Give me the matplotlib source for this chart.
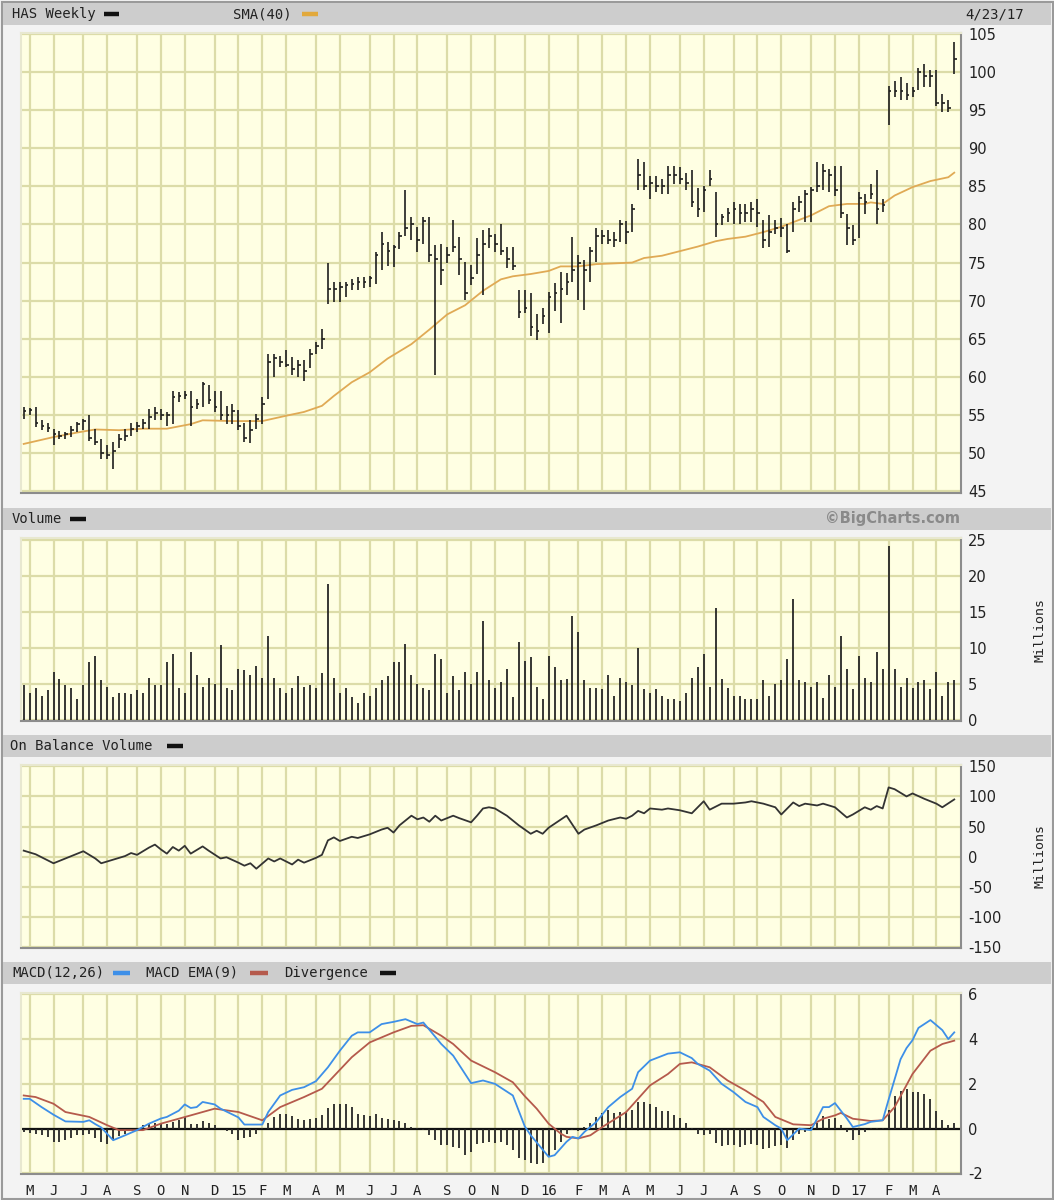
import numpy as np
import pandas as pd
import matplotlib
matplotlib.use("Agg")
import matplotlib.pyplot as plt
from matplotlib.patches import Rectangle
from matplotlib.lines import Line2D

plt.rcParams["axes.unicode_minus"] = False

# ---------------- data ----------------
dates = pd.date_range("2014-04-27", "2017-04-23", freq="W-SUN")  # 157 weekly bars

highs = [56.0,55.9,56.0,54.3,54.0,53.2,52.9,52.7,53.6,54.1,
         54.5,55.0,53.2,51.8,51.0,51.4,52.5,53.2,54.0,54.1,
         54.5,55.8,56.0,55.8,55.4,58.2,58.0,58.2,58.2,57.1,
         59.3,58.9,58.2,58.2,56.2,56.4,55.6,54.0,54.3,55.1,
         57.3,63.0,63.0,62.8,63.5,62.6,62.2,62.2,63.7,64.6,
         66.3,74.9,72.5,72.5,72.5,72.9,73.1,73.1,73.3,76.4,
         79.0,77.7,77.3,79.0,84.5,81.0,79.7,81.0,81.0,77.3,
         77.5,77.1,80.6,78.3,75.1,74.7,78.2,79.3,79.5,78.7,
         80.0,77.0,77.0,71.4,71.4,71.0,68.2,69.0,71.2,72.3,
         73.8,73.6,78.4,76.0,75.3,77.1,79.6,79.3,79.3,79.0,
         80.6,80.4,82.7,88.6,88.2,86.4,86.4,86.0,87.7,87.7,
         87.5,86.7,87.1,84.8,85.1,87.1,84.3,81.4,82.2,83.0,
         82.7,82.7,83.0,83.4,80.6,81.2,80.6,80.8,80.1,83.0,
         83.8,84.5,84.9,88.2,88.0,87.3,87.7,87.7,81.4,79.9,
         84.3,84.0,85.3,87.1,83.4,98.2,98.8,99.3,98.6,98.0,
         100.6,101.0,100.3,100.3,97.1,96.4,104.0]
lows = [54.5,55.0,53.4,53.0,52.7,51.0,51.8,51.8,52.1,52.7,
        53.0,51.6,51.0,49.2,49.2,47.9,50.7,51.6,52.3,52.7,
        53.2,53.2,54.3,54.3,53.6,53.8,56.7,57.1,53.6,55.8,
        56.0,56.4,55.4,54.3,53.8,53.8,53.0,51.4,51.3,53.2,
        53.8,57.1,60.0,61.3,61.3,60.2,60.0,59.5,61.1,63.0,
        63.7,69.6,69.8,69.8,70.5,71.4,71.4,71.6,71.8,72.2,
        74.0,74.6,74.4,76.8,78.5,78.0,76.4,77.5,75.1,60.3,
        72.1,74.9,76.4,73.4,70.1,72.1,73.5,70.8,76.9,76.4,
        76.0,74.3,74.0,67.7,68.4,65.3,64.9,66.9,65.8,68.6,
        67.1,70.8,72.5,70.1,68.8,72.5,75.1,77.5,77.5,77.1,
        77.7,77.5,79.0,84.5,84.5,83.4,84.3,84.0,84.0,85.3,
        85.3,84.5,82.3,81.0,81.7,85.1,78.4,79.9,80.3,80.1,
        80.1,80.3,80.3,79.7,76.9,77.1,78.8,78.4,76.2,79.0,
        81.7,80.3,80.3,84.3,84.5,84.3,83.8,80.8,77.3,77.3,
        78.2,81.4,83.4,80.1,81.7,93.0,96.7,96.4,96.4,96.7,
        97.7,98.0,98.0,95.6,94.7,94.7,99.7]
closes = [55.5,55.6,54.0,53.6,53.3,52.5,52.2,52.5,53.0,53.8,
          54.2,52.0,51.5,50.0,49.8,50.3,51.8,52.3,53.2,53.5,
          54.0,54.7,55.2,55.0,55.0,57.4,57.5,57.6,56.0,56.5,
          59.0,57.0,56.0,55.0,55.0,55.5,53.5,52.0,53.0,54.5,
          56.5,62.0,62.5,62.0,61.6,61.0,61.5,60.8,63.0,64.0,
          65.0,71.5,71.5,71.8,72.0,72.2,72.5,72.5,73.0,76.0,
          77.5,76.5,77.0,78.5,79.5,80.0,78.0,80.5,76.0,75.5,
          74.0,76.0,77.0,75.5,71.0,73.0,76.0,77.5,78.5,77.5,
          76.5,75.5,74.5,68.5,69.0,66.5,66.0,68.0,70.5,71.0,
          71.5,72.5,74.0,75.0,74.0,76.5,78.5,78.5,78.0,78.0,
          80.0,79.0,82.0,86.5,85.0,85.5,85.0,85.0,86.5,86.5,
          86.0,85.5,83.0,82.0,84.5,86.0,80.0,81.0,81.5,82.0,
          81.5,81.5,82.0,81.5,78.0,79.0,79.5,79.5,76.5,82.0,
          83.0,84.0,84.5,85.0,87.0,86.5,84.5,81.5,79.5,78.0,
          83.5,83.0,84.0,82.0,82.5,97.5,97.5,97.5,97.0,97.5,
          100.0,99.5,99.5,96.0,96.0,95.3,101.7]

sma_week = [0,5,9,12,16,20,24,28,30,35,40,44,47,50,52,55,58,61,65,68,71,74,77,80,
            82,85,88,90,93,96,99,102,104,107,110,113,116,118,121,124,127,130,132,
            135,138,141,142,144,146,149,152,155,156]
sma_val = [51.2,52.1,52.7,53.1,53.0,53.2,53.2,53.8,54.3,54.2,54.2,54.9,55.4,56.2,
           57.5,59.3,60.6,62.4,64.3,66.2,68.2,69.4,71.3,72.8,73.2,73.5,73.9,74.5,
           74.5,74.8,74.9,75.0,75.6,75.9,76.5,77.1,77.8,78.1,78.4,79.0,79.7,80.6,
           81.2,82.4,82.7,82.7,82.9,82.7,83.8,84.9,85.7,86.2,86.8]

volume = [4.9,3.8,4.5,3.4,4.1,6.7,5.7,4.9,4.5,2.9,
          4.9,8.0,8.9,5.5,4.6,3.2,3.8,3.8,3.6,4.1,
          3.8,5.9,4.9,4.9,8.0,9.2,4.5,3.8,9.5,6.3,
          4.6,5.9,5.0,10.4,4.5,4.1,7.1,7.0,6.3,7.5,
          5.9,11.6,5.9,4.4,3.8,4.5,6.1,4.6,4.9,4.4,
          6.5,18.9,5.9,3.8,4.4,3.2,2.4,3.8,3.3,4.4,
          5.5,6.1,8.0,8.0,10.6,6.3,5.0,4.5,4.1,9.2,
          8.5,3.7,6.1,4.1,6.7,5.0,6.7,13.7,5.5,4.4,
          5.3,7.1,3.2,10.8,8.2,8.7,4.6,2.9,8.9,7.3,
          5.5,5.7,14.4,12.2,5.5,4.5,4.5,4.3,6.3,3.3,
          5.9,5.3,4.9,10.0,4.3,3.8,4.3,3.4,2.9,2.9,
          2.6,3.8,5.9,7.3,9.2,4.6,15.6,5.7,4.5,3.3,
          3.3,2.9,2.9,2.9,5.5,3.3,5.0,5.5,8.5,16.8,
          5.5,5.3,4.6,5.3,3.1,6.3,4.6,11.6,7.1,4.3,
          8.9,5.9,5.3,9.4,7.1,24.2,7.1,4.6,5.9,4.5,
          5.3,5.5,4.3,6.7,3.4,5.3,5.6]

obv_week = [0,2,5,7,9,10,12,13,15,17,18,19,21,22,23,24,25,26,27,28,30,31,33,34,36,37,
            38,39,41,42,43,45,46,47,49,50,51,52,53,55,56,58,60,61,62,63,65,66,67,68,
            69,70,72,73,75,76,77,78,79,81,83,85,86,87,88,91,93,94,96,98,100,101,102,
            103,104,105,107,108,110,112,114,115,117,119,121,122,124,126,127,129,130,
            131,133,134,136,138,139,141,142,143,144,145,146,148,149,151,153,154,156]
obv_val = [10,4,-11,-3,5,9,-3,-11,-5,1,6,3,15,20,12,5,16,10,18,5,17,10,-3,-1,-10,-15,
           -11,-20,-3,-8,-3,-13,-5,-10,-2,3,27,32,26,33,31,37,45,48,40,52,68,62,65,58,
           68,60,68,64,57,68,80,82,80,68,52,38,43,38,48,68,38,45,52,60,65,63,68,
           76,72,80,78,80,77,72,92,78,88,88,90,92,88,82,70,90,84,
           88,85,88,82,65,70,82,78,84,80,115,112,100,105,96,88,82,95]

macd_week = [0,1,3,5,7,10,11,12,13,15,17,19,21,23,24,26,27,28,29,30,32,33,36,37,40,
             41,43,45,47,49,51,53,55,56,58,60,62,64,66,67,70,72,75,77,79,82,84,85,
             88,89,91,92,93,94,96,98,100,102,103,105,108,110,112,113,115,117,119,
             121,123,124,126,127,128,130,132,133,134,135,136,138,139,141,142,144,
             145,146,147,148,149,150,152,154,155,156]
macd_val = [1.33,1.33,0.96,0.62,0.32,0.30,0.37,0.20,0.05,-0.52,-0.30,-0.07,0.22,0.45,
            0.52,0.80,1.08,0.92,0.96,1.19,1.08,0.89,0.50,0.18,0.18,
            0.74,1.48,1.73,1.85,2.12,2.74,3.48,4.15,4.30,4.30,4.67,4.77,4.89,4.67,
            4.74,3.78,3.26,2.03,2.15,2.00,1.48,0.10,-0.30,
            -1.26,-1.19,-0.59,-0.37,-0.44,-0.15,0.30,0.96,1.41,1.78,2.52,3.04,3.35,
            3.41,3.15,2.89,2.59,2.00,1.63,
            1.19,0.96,0.52,0.15,0.00,-0.52,0.00,-0.07,0.44,0.96,0.96,1.14,0.45,0.07,
            0.20,0.30,0.37,
            1.30,2.20,3.10,3.60,3.95,4.50,4.85,4.40,4.00,4.30]

signal_week = [0,2,5,7,11,14,16,20,23,28,32,36,40,43,47,50,55,58,62,65,67,70,72,75,
               79,82,84,86,88,90,91,93,95,97,101,105,108,110,112,115,118,121,124,126,
               129,132,134,136,137,139,142,144,146,149,152,154,156]
signal_val = [1.48,1.41,1.11,0.74,0.52,0.15,-0.07,-0.07,0.22,0.59,0.89,0.74,0.37,0.96,
              1.41,1.78,3.19,3.85,4.30,4.59,4.62,4.15,3.78,3.04,2.52,2.07,1.45,0.89,
              0.22,-0.22,-0.37,-0.44,-0.30,0.07,0.74,1.93,2.44,2.89,2.96,2.74,2.15,
              1.70,1.19,0.52,0.19,0.15,0.44,0.59,0.70,0.44,0.34,0.37,0.96,2.44,3.48,
              3.78,3.93]

divergence = [-0.15,-0.19,-0.22,-0.30,-0.37,-0.59,-0.59,-0.52,-0.44,-0.30,
              -0.30,-0.22,-0.44,-0.59,-0.67,-0.52,-0.34,-0.22,-0.10,0.00,
              0.15,0.22,0.25,0.19,0.22,0.30,0.40,0.52,0.19,0.19,
              0.33,0.25,0.15,0.00,-0.10,-0.22,-0.52,-0.44,-0.37,-0.25,
              0.02,0.25,0.52,0.64,0.67,0.55,0.44,0.40,0.44,0.49,
              0.59,0.92,1.11,1.11,1.08,0.96,0.67,0.59,0.55,0.64,
              0.49,0.44,0.37,0.33,0.25,0.07,0.04,-0.07,-0.30,-0.52,
              -0.74,-0.74,-0.81,-0.89,-1.19,-1.04,-0.67,-0.64,-0.59,-0.64,
              -0.59,-0.74,-0.96,-1.33,-1.41,-1.56,-1.59,-1.53,-1.26,-0.96,
              -0.59,-0.22,-0.07,-0.10,0.07,0.25,0.52,0.70,0.81,0.70,
              0.74,0.74,0.81,1.19,1.19,1.11,0.96,0.79,0.79,0.59,
              0.49,0.25,0.02,-0.22,-0.30,-0.22,-0.64,-0.79,-0.74,-0.74,
              -0.81,-0.74,-0.70,-0.74,-0.93,-0.89,-0.79,-0.74,-0.89,-0.52,
              -0.25,-0.15,0.07,0.25,0.55,0.44,0.49,0.15,-0.15,-0.52,
              -0.30,-0.15,0.02,0.02,0.02,0.84,1.44,1.70,1.78,1.63,
              1.63,1.53,1.33,0.79,0.40,0.15,0.25]

month_letters = ["J","F","M","A","M","J","J","A","S","O","N","D"]

# ---------------- figure ----------------
W, H = 1054, 1200
fig = plt.figure(figsize=(W / 100, H / 100), dpi=100, facecolor="#f3f3f3")

BG = "#ffffe3"
GRID = "#dcdca8"
MONO = "DejaVu Sans Mono"

x = np.arange(len(dates))
month_pos = [i for i in range(1, len(dates)) if dates[i].month != dates[i - 1].month]
month_lab = [(f"{dates[i].year % 100:02d}" if dates[i].month == 1 else month_letters[dates[i].month - 1])
             for i in month_pos]

def make_ax(top, bottom, ylim, yticks):
    ax = fig.add_axes([21 / W, 1 - bottom / H, 940 / W, (bottom - top) / H])
    ax.set_facecolor(BG)
    ax.set_xlim(-0.45, 157.13)
    ax.set_ylim(*ylim)
    ax.set_yticks(yticks)
    ax.set_xticks(month_pos)
    ax.set_xticklabels([])
    ax.yaxis.tick_right()
    ax.tick_params(axis="both", length=0, labelsize=10.5, colors="#222222", pad=5)
    ax.grid(True, color=GRID, lw=1.6)
    ax.set_axisbelow(True)
    for s in ("left", "top"):
        ax.spines[s].set_color("#e8e8d0")
        ax.spines[s].set_linewidth(1.5)
    for s in ("right", "bottom"):
        ax.spines[s].set_color("#8c8c8c")
        ax.spines[s].set_linewidth(1.5)
    return ax

def header(y0, y1):
    fig.add_artist(Rectangle((3 / W, 1 - y1 / H), 1048 / W, (y1 - y0) / H,
                             transform=fig.transFigure, facecolor="#cdcdcd",
                             edgecolor="none", zorder=0))

def htext(xp, yc, s, **kw):
    fig.text(xp / W, 1 - yc / H, s, va="center", ha=kw.pop("ha", "left"),
             fontsize=kw.pop("fontsize", 10), family=kw.pop("family", MONO),
             color=kw.pop("color", "#222222"), **kw)

def dash(x0, x1, yc, color):
    fig.add_artist(Line2D([x0 / W, x1 / W], [1 - yc / H] * 2, color=color, lw=3.2,
                          transform=fig.transFigure, solid_capstyle="butt"))

fig.add_artist(Rectangle((1.5 / W, 1.5 / H), (W - 3) / W, (H - 3) / H,
                         transform=fig.transFigure, facecolor="none",
                         edgecolor="#9a9a9a", lw=1.5, zorder=0))

header(3, 25)
htext(12, 14, "HAS Weekly")
dash(104, 119, 14, "#111111")
htext(233, 14, "SMA(40)")
dash(302, 318, 14, "#e2a93c")
htext(1024, 14, "4/23/17", ha="right")

header(508, 530)
htext(12, 519, "Volume")
dash(70, 86, 519, "#111111")
htext(960, 518, "\u00a9BigCharts.com", ha="right", family="DejaVu Sans",
      fontsize=10.5, fontweight="bold", color="#8a8a8a")

header(735, 757)
htext(10, 746, "On Balance Volume")
dash(167, 183, 746, "#111111")

header(962, 984)
htext(12, 973, "MACD(12,26)")
dash(113, 130, 973, "#3d8fe8")
htext(146, 973, "MACD EMA(9)")
dash(250, 268, 973, "#b55a4c")
htext(284, 973, "Divergence")
dash(380, 396, 973, "#111111")

# ---------------- price ----------------
ax1 = make_ax(33, 493, (44.76, 105.13), np.arange(45, 106, 5))
ax1.vlines(x, lows, highs, color="#1e1e1e", lw=1.2, zorder=3)
ax1.hlines(closes, x, x + 0.45, color="#1e1e1e", lw=1.2, zorder=3)
ax1.plot(sma_week, sma_val, color="#e0aa55", lw=1.3, zorder=2)

# ---------------- volume ----------------
ax2 = make_ax(538, 721, (-0.14, 25.28), np.arange(0, 26, 5))
ax2.vlines(x, 0, volume, color="#262626", lw=1.3, zorder=3)
fig.text(1040 / W, 1 - 630 / H, "Millions", rotation=90, va="center", ha="center",
         fontsize=9.5, family=MONO, color="#222222")

# ---------------- OBV ----------------
ax3 = make_ax(765, 948, (-151.7, 152.2), np.arange(-150, 151, 50))
ax3.plot(obv_week, obv_val, color="#333333", lw=1.3, zorder=3)
fig.text(1040 / W, 1 - 856 / H, "Millions", rotation=90, va="center", ha="center",
         fontsize=9.5, family=MONO, color="#222222")

# ---------------- MACD ----------------
ax4 = make_ax(993, 1174, (-2.03, 6.06), np.arange(-2, 7, 2))
ax4.axhline(0, color="#111111", lw=1.6, zorder=2)
ax4.vlines(x, 0, divergence, color="#262626", lw=1.3, zorder=3)
ax4.plot(signal_week, signal_val, color="#b55a4c", lw=1.3, zorder=4)
ax4.plot(macd_week, macd_val, color="#3d8fe8", lw=1.3, zorder=5)
ax4.set_xticklabels(month_lab, family=MONO, fontsize=10)
ax4.tick_params(axis="x", pad=7)

fig.savefig("out.png", dpi=100, facecolor=fig.get_facecolor())
